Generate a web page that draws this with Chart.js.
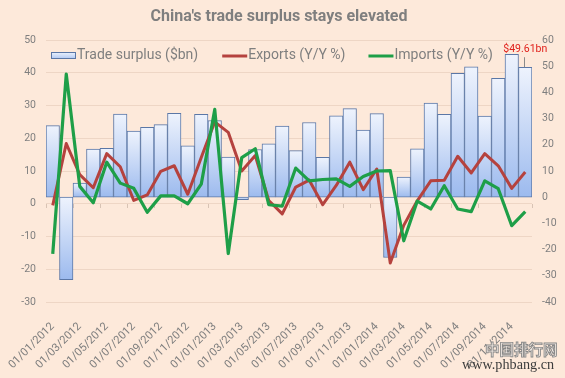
<!DOCTYPE html>
<html><head><meta charset="utf-8">
<script src="https://cdn.jsdelivr.net/npm/chart.js@4.4.1/dist/chart.umd.min.js"></script>
<style>
html,body{margin:0;padding:0;background:#FDE9DA;}
#wrap{position:relative;width:565px;height:378px;overflow:hidden;background:#FDE9DA;}
canvas{position:absolute;left:0;top:0;}
.wm1{position:absolute;left:485px;top:342px;font:700 14.5px "Noto Sans CJK SC";color:#f4ece6;-webkit-text-stroke:0.9px #888;white-space:nowrap;line-height:1;}
.wm2{position:absolute;left:462px;top:357px;font:14.2px "Liberation Serif";color:#3c3c3c;white-space:nowrap;line-height:1;}
</style></head>
<body><div id="wrap"><canvas id="c" width="565" height="378"></canvas>
<div class="wm1">中国排行网</div><div class="wm2">www.phbang.cn</div></div>
<script>
// ---- data ----
const months = ["01/01/2012","01/02/2012","01/03/2012","01/04/2012","01/05/2012","01/06/2012","01/07/2012","01/08/2012","01/09/2012","01/10/2012","01/11/2012","01/12/2012",
"01/01/2013","01/02/2013","01/03/2013","01/04/2013","01/05/2013","01/06/2013","01/07/2013","01/08/2013","01/09/2013","01/10/2013","01/11/2013","01/12/2013",
"01/01/2014","01/02/2014","01/03/2014","01/04/2014","01/05/2014","01/06/2014","01/07/2014","01/08/2014","01/09/2014","01/10/2014","01/11/2014","01/12/2014"];
const tradeSurplus = [27.3,-31.5,5.4,18.4,18.7,31.7,25.2,26.7,27.7,32.0,19.6,31.6,
29.2,15.3,-0.9,18.2,20.4,27.1,17.8,28.5,15.2,31.1,33.8,25.6,
31.9,-23.0,7.7,18.5,35.9,31.6,47.3,49.8,31.0,45.4,54.5,49.61];
const exportsYoY = [-0.5,18.4,8.9,4.9,15.3,11.3,1.0,2.7,9.9,11.6,2.9,14.1,
25.0,21.8,10.0,14.7,1.0,-3.1,5.1,7.2,-0.3,5.6,12.7,4.3,
10.6,-18.1,-6.6,0.9,7.0,7.2,14.5,9.4,15.3,11.6,4.7,9.7];
const importsYoY = [-15.3,39.6,5.3,0.3,12.7,6.3,4.7,-2.6,2.4,2.4,0.0,6.0,
28.8,-15.2,14.1,16.8,-0.3,-0.7,10.9,7.0,7.4,7.6,5.3,8.3,
10.0,10.1,-11.3,0.8,-1.6,5.5,-1.6,-2.4,7.0,4.6,-6.7,-2.4];
const leftAxisTicks = [-30,-20,-10,0,10,20,30,40,50];
const rightAxisTicks = [-40,-30,-20,-10,0,10,20,30,40,50,60];
const seriesNames = ["Trade surplus ($bn)","Exports (Y/Y %)","Imports (Y/Y %)"];
const titleText = "China's trade surplus stays elevated";
const calloutText = "$49.61bn";

// ---- styles ----
const GREY = '#7f7f7f';
const RED = '#B5423E';
const GREEN = '#1E9F48';
const BAR_TOP = '#EEF3FD', BAR_BOT = '#9CBAEE', BAR_BORDER = '#5B77A6';
const FONT = 'Roboto';

function barFill(ctx){
  const chart = ctx.chart, s = chart.scales.yR;
  if (ctx.type !== 'data' || !s) return '#c9d9f6';
  const y0 = s.getPixelForValue(0), y1 = s.getPixelForValue(ctx.raw);
  if (!isFinite(y0) || !isFinite(y1)) return '#c9d9f6';
  const top = Math.min(y0,y1), bot = Math.max(y0,y1) + 0.01;
  const g = chart.ctx.createLinearGradient(0, top, 0, bot);
  g.addColorStop(0, BAR_TOP); g.addColorStop(1, BAR_BOT);
  return g;
}

const decorPlugin = {
  id: 'decor',
  beforeDatasetsDraw(chart){
    const c = chart.ctx, xs = chart.scales.x, yl = chart.scales.yL;
    const y0 = Math.round(yl.getPixelForValue(0));
    const w = (xs.getPixelForValue(1) - xs.getPixelForValue(0));
    c.save(); c.strokeStyle = '#D8C3B4'; c.lineWidth = 1; c.beginPath();
    for (let i = 0; i <= months.length; i += 2) {
      const x = Math.round(xs.getPixelForValue(0) - w/2 + i*w) + 0.5;
      c.moveTo(x, y0); c.lineTo(x, y0 + 4);
    }
    c.stroke(); c.restore();
  },
  afterDraw(chart){
    const c = chart.ctx, a = chart.chartArea;
    c.save();
    c.font = 'bold 16px ' + FONT;
    c.fillStyle = GREY; c.textAlign = 'center'; c.textBaseline = 'alphabetic';
    c.fillText(titleText, 279, 21);
    c.font = '14px ' + FONT;
    c.textBaseline = 'middle'; c.textAlign = 'left';
    let x = a.left + 5; const ly = a.top + 15.5;
    const g = c.createLinearGradient(0, ly-3.5, 0, ly+3.5);
    g.addColorStop(0, BAR_TOP); g.addColorStop(1, '#AFC7F2');
    c.fillStyle = g; c.fillRect(x, ly-3.5, 25, 7);
    c.strokeStyle = BAR_BORDER; c.lineWidth = 1; c.strokeRect(x+0.5, ly-3.5+0.5, 24, 6);
    x += 26;
    c.fillStyle = GREY; c.fillText(seriesNames[0], x, ly);
    x += c.measureText(seriesNames[0]).width + 24;
    [[RED, seriesNames[1]],[GREEN, seriesNames[2]]].forEach(([col, txt]) => {
      c.strokeStyle = col; c.lineWidth = 3; c.beginPath(); c.moveTo(x, ly+0.5); c.lineTo(x+25, ly+0.5); c.stroke();
      x += 26;
      c.fillStyle = GREY; c.fillText(txt, x, ly);
      x += c.measureText(txt).width + 23;
    });
    const meta = chart.getDatasetMeta(0);
    const el = meta.data[meta.data.length-1];
    if (el) {
      c.strokeStyle = '#8a8a8a'; c.lineWidth = 1;
      c.beginPath(); c.moveTo(Math.round(el.x)-0.5, el.y - 10); c.lineTo(Math.round(el.x)-0.5, el.y); c.stroke();
      c.font = '10.5px ' + FONT; c.fillStyle = '#E0211C'; c.textAlign = 'center'; c.textBaseline = 'alphabetic';
      c.fillText(calloutText, el.x, el.y - 15);
    }
    c.restore();
  }
};

new Chart(document.getElementById('c'), {
  type: 'bar',
  data: {
    labels: months,
    datasets: [
      { type:'bar', label: seriesNames[0], data: tradeSurplus, yAxisID:'yR', order:3,
        backgroundColor: barFill, borderColor: BAR_BORDER, borderWidth: 1, borderSkipped: false,
        barPercentage: 1, categoryPercentage: 1 },
      { type:'line', label: seriesNames[1], data: exportsYoY, yAxisID:'yL', order:2,
        borderColor: RED, borderWidth: 3, pointRadius: 0, tension: 0, fill: false, borderJoinStyle:'round' },
      { type:'line', label: seriesNames[2], data: importsYoY, yAxisID:'yL', order:1,
        borderColor: GREEN, borderWidth: 3.2, pointRadius: 0, tension: 0, fill: false, borderJoinStyle:'round' }
    ]
  },
  options: {
    responsive: false, devicePixelRatio: 1, animation: false,
    layout: { padding: { top: 40, left: 0, right: 0, bottom: 0 } },
    plugins: { legend: { display:false }, title: { display:false }, tooltip: { enabled:false } },
    scales: {
      x: {
        offset: true,
        grid: { display:false }, border: { display:false },
        ticks: { autoSkip:false, maxRotation:45, minRotation:45, padding: 10,
          color: GREY, font: { family: FONT, size: 11.2 },
          callback(v, i){ return i % 2 === 0 ? months[i] : ''; } },
        afterFit(s){ s.height = 76; }
      },
      yL: {
        position:'left', min: leftAxisTicks[0], max: leftAxisTicks[leftAxisTicks.length-1],
        grid: { color:'#EED6C5', lineWidth:1, drawTicks:false }, border: { display:false },
        ticks: { stepSize: 10, padding: 10, color: GREY, font: { family: FONT, size: 10.5 } },
        afterFit(s){ s.width = 46; }
      },
      yR: {
        position:'right', min: rightAxisTicks[0], max: rightAxisTicks[rightAxisTicks.length-1],
        grid: { display:false, drawTicks:false }, border: { display:false },
        ticks: { stepSize: 10, padding: 10, color: GREY, font: { family: FONT, size: 10.5 } },
        afterFit(s){ s.width = 33; }
      }
    }
  },
  plugins: [decorPlugin]
});
</script></body></html>
